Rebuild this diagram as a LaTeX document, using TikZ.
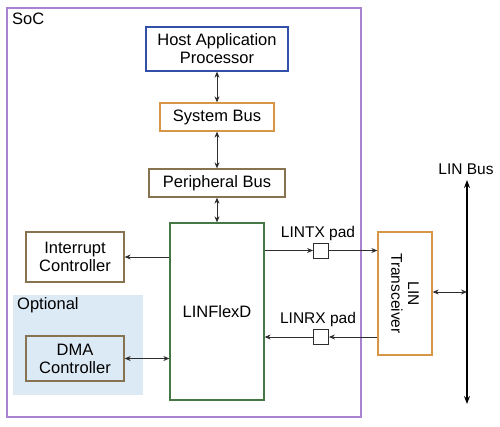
\documentclass[tikz,border=0pt]{standalone}
\usepackage{fontspec}
\setmainfont{Liberation Sans}
\usetikzlibrary{arrows.meta,calc}
\definecolor{socc}{RGB}{170,130,210}
\definecolor{hostc}{RGB}{50,80,170}
\definecolor{busc}{RGB}{215,150,70}
\definecolor{brc}{RGB}{135,115,80}
\definecolor{linc}{RGB}{70,120,70}
\definecolor{optc}{RGB}{220,234,245}
\definecolor{arrc}{RGB}{45,45,45}
\tikzset{
  box/.style={draw,line width=1.3pt,inner sep=0pt,align=center,font=\fontsize{16.5}{18}\selectfont},
  lbl/.style={inner sep=0pt,font=\fontsize{16.5}{18}\selectfont},
  sml/.style={inner sep=0pt,font=\fontsize{15.5}{17}\selectfont},
  arr/.style={draw=arrc,line width=0.85pt,-{Stealth[length=6pt,width=5pt]}},
  darr/.style={draw=arrc,line width=0.85pt,{Stealth[length=6pt,width=5pt]}-{Stealth[length=6pt,width=5pt]}},
  padbox/.style={draw=arrc,line width=0.8pt,minimum size=15pt,inner sep=0pt},
}
\begin{document}
\begin{tikzpicture}[x=1pt,y=-1pt]
\useasboundingbox (0,0) rectangle (500,426);
% SoC
\node[draw=socc,line width=1.3pt,minimum width=354pt,minimum height=409pt,inner sep=0pt] (soc) at (184,212.5) {};
\node[lbl,anchor=west] (soct) at (12,19) {SoC};
% optional region
\node[fill=optc,minimum width=130pt,minimum height=100pt,inner sep=0pt] (opt) at (78,345) {};
\node[lbl,anchor=west] (optt) at (17,305) {Optional};
% boxes
\node[box,draw=hostc,minimum width=142pt,minimum height=44pt] (host) at (217,49) {Host Application\\Processor};
\node[box,draw=busc,minimum width=114pt,minimum height=28pt] (sys) at (217,117) {System Bus};
\node[box,draw=brc,minimum width=136pt,minimum height=28pt] (per) at (217,183) {Peripheral Bus};
\node[box,draw=linc,minimum width=94pt,minimum height=177pt] (lin) at (217,311.5) {LINFlexD};
\node[box,draw=brc,minimum width=98pt,minimum height=50pt] (irq) at (75,257) {Interrupt\\Controller};
\node[box,draw=brc,minimum width=98pt,minimum height=45pt] (dma) at (75,358.5) {DMA\\Controller};
\node[box,draw=busc,minimum width=54pt,minimum height=123pt] (trx) at (405,293.5) {};
\node[sml,rotate=-90,align=center,font=\fontsize{15.5}{17}\selectfont] (trxt) at (trx.center) {LIN\\Transceiver};
% pads
\node[padbox] (txpad) at (321,250.5) {};
\node[padbox] (rxpad) at (321,337) {};
\node[sml] (txl) at (318,233) {LINTX pad};
\node[sml] (rxl) at (318,319) {LINRX pad};
% LIN bus
\coordinate (bustop) at (467,180);
\coordinate (busbot) at (467,404);
\coordinate (busmid) at (467,292);
\node[sml] (busl) at (466,169) {LIN Bus};
\draw[line width=1.6pt,{Stealth[length=8pt,width=6pt]}-{Stealth[length=8pt,width=6pt]}] (bustop) -- (busbot);
% connectors
\draw[darr] (host.south) -- (sys.north);
\draw[darr] (sys.south) -- (per.north);
\draw[darr] (per.south) -- (lin.north);
\draw[arr] (lin.west |- irq.east) -- (irq.east);
\draw[darr] (dma.east) -- (lin.west |- dma.east);
\draw[arr] (lin.east |- txpad.west) -- (txpad.west);
\draw[arr] (txpad.east) -- (trx.west |- txpad.east);
\draw[arr] (trx.west |- rxpad.east) -- (rxpad.east);
\draw[arr] (rxpad.west) -- (lin.east |- rxpad.west);
\draw[darr] (trx.east |- busmid) -- (busmid);
\end{tikzpicture}
\end{document}
